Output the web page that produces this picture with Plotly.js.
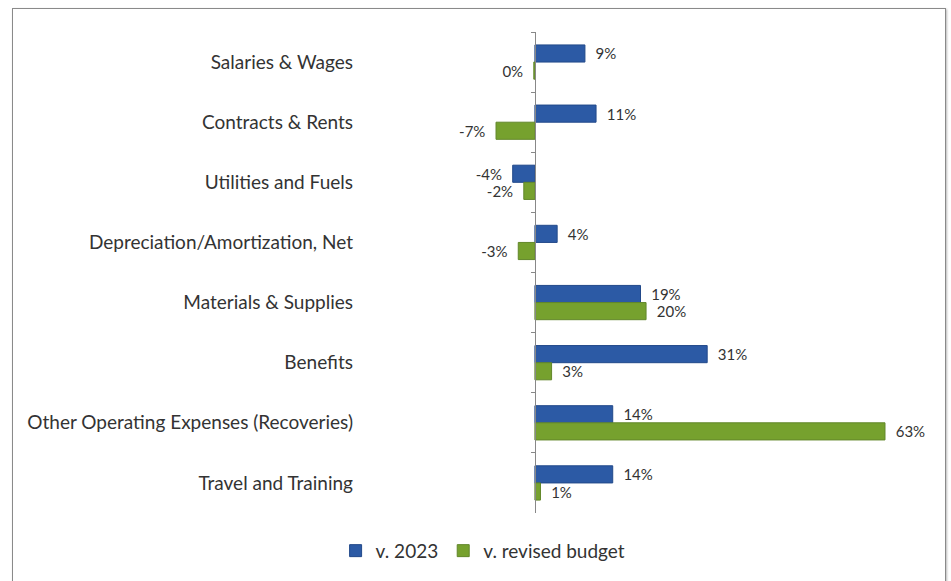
<!DOCTYPE html>
<html>
<head>
<meta charset="utf-8">
<script src="https://cdn.plot.ly/plotly-3.0.1.min.js"></script>
<style>
html,body{margin:0;padding:0;background:#fff;}
#wrap{position:relative;width:951px;height:581px;}
#chart{position:absolute;left:0;top:0;width:951px;height:581px;}
#frame{position:absolute;left:12px;top:8px;width:932px;height:600px;border:1px solid #8a8a8a;box-shadow:1px 1px 2px #bbb;pointer-events:none;}
</style>
</head>
<body>
<div id="wrap"><div id="chart"></div><div id="frame"></div></div>
<script>
const categories = [
  "Salaries & Wages",
  "Contracts & Rents",
  "Utilities and Fuels",
  "Depreciation/Amortization, Net",
  "Materials & Supplies",
  "Benefits",
  "Other Operating Expenses (Recoveries)",
  "Travel and Training"
];
const seriesNames = ["v. 2023", "v. revised budget"];
const v2023 = [9, 11, -4, 4, 19, 31, 14, 14];
const vRevised = [-0.2, -7, -2, -3, 20, 3, 63, 1];

const xRange = [-32.2, 71.1];
const fmt = v => { const r = Math.round(v); const s = (r === 0 ? 0 : r) + '%'; return v < 0 ? s + '  ' : '  ' + s; };

const common = {
  type: 'bar', orientation: 'h', y: categories,
  textposition: 'outside', cliponaxis: false, constraintext: 'none',
  textfont: {family: 'Lato, "Open Sans", sans-serif', size: 15, color: '#333'},
  hoverinfo: 'x+y'
};
const traces = [
  Object.assign({}, common, {name: seriesNames[0], x: v2023, text: v2023.map(fmt),
    marker: {color: '#2c5aa5', line: {color: '#22498a', width: 1}}}),
  Object.assign({}, common, {name: seriesNames[1], x: vRevised, text: vRevised.map(fmt),
    marker: {color: '#76a12e', line: {color: '#62872a', width: 1}}})
];

const zeroPos = (0 - xRange[0]) / (xRange[1] - xRange[0]);

const layout = {
  width: 951, height: 581,
  margin: {l: 356, r: 21, t: 32, b: 68},
  paper_bgcolor: '#fff', plot_bgcolor: '#fff',
  barmode: 'group', bargap: 0.43, bargroupgap: 0,
  font: {family: 'Lato, "Open Sans", sans-serif', color: '#333'},
  xaxis: {range: xRange, showgrid: false, showticklabels: false, zeroline: false, showline: false, ticks: ''},
  yaxis: {autorange: 'reversed', type: 'category', categoryorder: 'array', categoryarray: categories,
    showgrid: false, showline: false, ticks: '', tickfont: {size: 19, color: '#333'}, ticklabelstandoff: 2},
  yaxis2: {overlaying: 'y', matches: 'y', anchor: 'free', position: zeroPos, side: 'left',
    type: 'category', categoryorder: 'array', categoryarray: categories,
    showline: true, linecolor: '#888', linewidth: 1, ticks: 'outside', ticklen: 4, tickcolor: '#888',
    tickson: 'boundaries', showticklabels: false, showgrid: false},
  showlegend: true,
  legend: {orientation: 'h', xref: 'container', yref: 'container', x: 0.508, xanchor: 'center', y: 0.052, yanchor: 'middle',
    font: {size: 19, color: '#333'}, itemwidth: 30, traceorder: 'normal'}
};

// invisible helper trace so the zero-line axis is drawn
traces.push({type: 'scatter', x: [null], y: [categories[0]], yaxis: 'y2', showlegend: false, hoverinfo: 'skip', mode: 'markers', marker: {opacity: 0}});

Plotly.newPlot('chart', traces, layout, {staticPlot: true});
</script>
</body>
</html>
